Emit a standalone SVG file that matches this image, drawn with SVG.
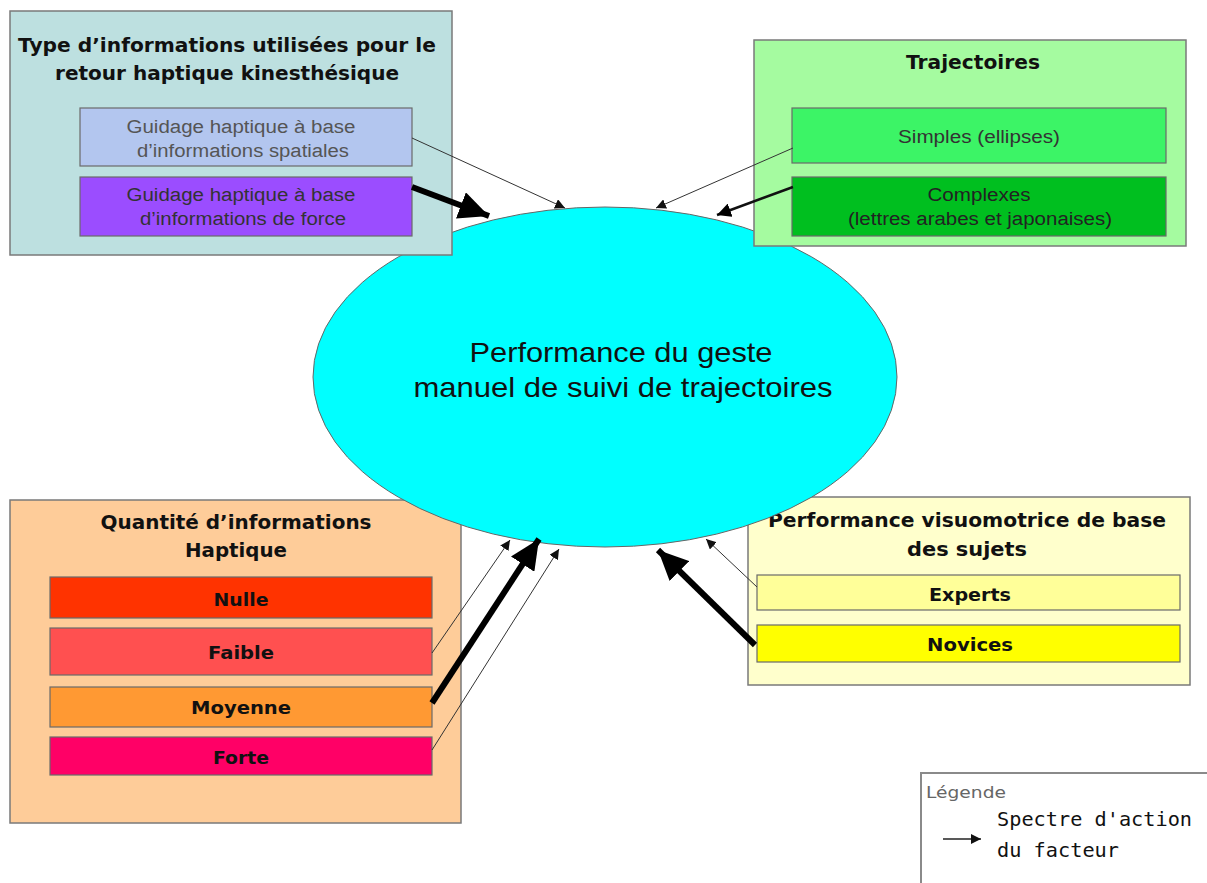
<svg xmlns="http://www.w3.org/2000/svg" width="1207" height="883" viewBox="0 0 1207 883">
<style>
.box{stroke:#7a7a7a;stroke-width:1.5}
.inner{stroke:#6a6a6a;stroke-width:1.2}
.title{font-family:"DejaVu Sans","Liberation Sans",sans-serif;font-weight:bold;font-size:20px;fill:#111;text-anchor:middle}
.sub{font-family:"Liberation Sans",Arial,sans-serif;font-size:18px;text-anchor:middle}
.lab{font-family:"DejaVu Sans","Liberation Sans",sans-serif;font-weight:bold;font-size:18px;fill:#111;text-anchor:middle}
.main{font-family:"Liberation Sans",Arial,sans-serif;font-size:28px;fill:#111;text-anchor:middle}
.thin{stroke:#333;stroke-width:1;fill:none}
.med{stroke:#111;stroke-width:2.5;fill:none}
.thick{stroke:#000;stroke-width:6;fill:none}
</style>
<defs>
<marker id="hThin" markerUnits="userSpaceOnUse" markerWidth="12" markerHeight="10" refX="10" refY="5" orient="auto"><path d="M0,0 L10,5 L0,10 z" fill="#111"/></marker>
<marker id="hMed" markerUnits="userSpaceOnUse" markerWidth="16" markerHeight="14" refX="14" refY="7" orient="auto"><path d="M0,0 L14,7 L0,14 z" fill="#000"/></marker>
<marker id="hThick" markerUnits="userSpaceOnUse" markerWidth="32" markerHeight="28" refX="30" refY="14" orient="auto"><path d="M0,0 L30,14 L0,28 z" fill="#000"/></marker>
</defs>
<rect width="1207" height="883" fill="#fff"/>

<g id="quantite">
<rect class="box" x="10" y="500" width="451" height="323" fill="#fecc99"/>
<text class="title" x="236" y="529" textLength="271" lengthAdjust="spacingAndGlyphs">Quantité d’informations</text>
<text class="title" x="236" y="557" textLength="102" lengthAdjust="spacingAndGlyphs">Haptique</text>
<rect class="inner" x="50" y="577" width="382" height="41" fill="#ff3300"/>
<text class="lab" x="241" y="606" textLength="55" lengthAdjust="spacingAndGlyphs">Nulle</text>
<rect class="inner" x="50" y="628" width="382" height="47" fill="#ff5050"/>
<text class="lab" x="241" y="659" textLength="66" lengthAdjust="spacingAndGlyphs">Faible</text>
<rect class="inner" x="50" y="687" width="382" height="40" fill="#ff9933"/>
<text class="lab" x="241" y="714" textLength="100" lengthAdjust="spacingAndGlyphs">Moyenne</text>
<rect class="inner" x="50" y="737" width="382" height="38" fill="#ff0066"/>
<text class="lab" x="241" y="764" textLength="56" lengthAdjust="spacingAndGlyphs">Forte</text>
</g>

<g id="visuomotrice">
<rect class="box" x="748" y="497" width="442" height="188" fill="#ffffcc"/>
<text class="title" x="967" y="527" textLength="398" lengthAdjust="spacingAndGlyphs">Performance visuomotrice de base</text>
<text class="title" x="967" y="556" textLength="120" lengthAdjust="spacingAndGlyphs">des sujets</text>
<rect class="inner" x="757" y="575" width="423" height="35" fill="#ffff99"/>
<text class="lab" x="970" y="601" textLength="82" lengthAdjust="spacingAndGlyphs">Experts</text>
<rect class="inner" x="757" y="625" width="423" height="37" fill="#ffff00"/>
<text class="lab" x="970" y="651" textLength="86" lengthAdjust="spacingAndGlyphs">Novices</text>
</g>

<g id="performance">
<ellipse cx="605" cy="377" rx="292" ry="170" fill="#00ffff" stroke="#666" stroke-width="1"/>
<text class="main" x="621" y="362" textLength="303" lengthAdjust="spacingAndGlyphs">Performance du geste</text>
<text class="main" x="623" y="397" textLength="419" lengthAdjust="spacingAndGlyphs">manuel de suivi de trajectoires</text>
</g>

<g id="type-info">
<rect class="box" x="10" y="11" width="442" height="244" fill="#bde0e0"/>
<text class="title" x="227" y="52" textLength="418" lengthAdjust="spacingAndGlyphs">Type d’informations utilisées pour le</text>
<text class="title" x="227" y="80" textLength="344" lengthAdjust="spacingAndGlyphs">retour haptique kinesthésique</text>
<rect class="inner" x="80" y="108" width="332" height="58" fill="#b3c6ef"/>
<text class="sub" x="241" y="133" fill="#555" textLength="229" lengthAdjust="spacingAndGlyphs">Guidage haptique à base</text>
<text class="sub" x="243" y="157" fill="#555" textLength="212" lengthAdjust="spacingAndGlyphs">d’informations spatiales</text>
<rect class="inner" x="80" y="177" width="332" height="59" fill="#9b4dff"/>
<text class="sub" x="241" y="201" fill="#333" textLength="229" lengthAdjust="spacingAndGlyphs">Guidage haptique à base</text>
<text class="sub" x="243" y="225" fill="#333" textLength="206" lengthAdjust="spacingAndGlyphs">d’informations de force</text>
</g>

<g id="trajectoires">
<rect class="box" x="754" y="40" width="432" height="206" fill="#a5fba0"/>
<text class="title" x="973" y="69" textLength="134" lengthAdjust="spacingAndGlyphs">Trajectoires</text>
<rect class="inner" x="792" y="108" width="374" height="55" fill="#3cf466"/>
<text class="sub" x="979" y="143" fill="#333" textLength="162" lengthAdjust="spacingAndGlyphs">Simples (ellipses)</text>
<rect class="inner" x="792" y="177" width="374" height="59" fill="#00bf1f"/>
<text class="sub" x="979" y="201" fill="#222" textLength="103" lengthAdjust="spacingAndGlyphs">Complexes</text>
<text class="sub" x="980" y="225" fill="#222" textLength="264" lengthAdjust="spacingAndGlyphs">(lettres arabes et japonaises)</text>
</g>

<g id="connectors">
<line class="thin" x1="412" y1="138" x2="565" y2="208" marker-end="url(#hThin)"/>
<line class="thick" x1="412" y1="187" x2="489" y2="216" marker-end="url(#hThick)"/>
<line class="thin" x1="793" y1="148" x2="656" y2="208" marker-end="url(#hThin)"/>
<line class="med" x1="793" y1="187" x2="717" y2="215" marker-end="url(#hMed)"/>
<line class="thin" x1="432" y1="653" x2="510" y2="540" marker-end="url(#hThin)"/>
<line class="thick" x1="432" y1="703" x2="539" y2="539" marker-end="url(#hThick)"/>
<line class="thin" x1="432" y1="750" x2="559" y2="549" marker-end="url(#hThin)"/>
<line class="thin" x1="757" y1="587" x2="706" y2="539" marker-end="url(#hThin)"/>
<line class="thick" x1="755" y1="645" x2="658" y2="550" marker-end="url(#hThick)"/>
</g>

<g id="legende">
<rect x="921" y="773" width="300" height="120" fill="#fff" stroke="#8a8a8a" stroke-width="2"/>
<text x="926" y="798" font-family="DejaVu Sans,sans-serif" font-size="15" fill="#666" textLength="80" lengthAdjust="spacingAndGlyphs">Légende</text>
<line x1="943" y1="839" x2="981" y2="839" stroke="#222" stroke-width="1.5" marker-end="url(#hThin)"/>
<text x="997" y="826" font-family="DejaVu Sans Mono,Liberation Mono,monospace" font-size="20" fill="#111" textLength="195" lengthAdjust="spacingAndGlyphs">Spectre d'action</text>
<text x="997" y="857" font-family="DejaVu Sans Mono,Liberation Mono,monospace" font-size="20" fill="#111" textLength="122" lengthAdjust="spacingAndGlyphs">du facteur</text>
</g>
</svg>
